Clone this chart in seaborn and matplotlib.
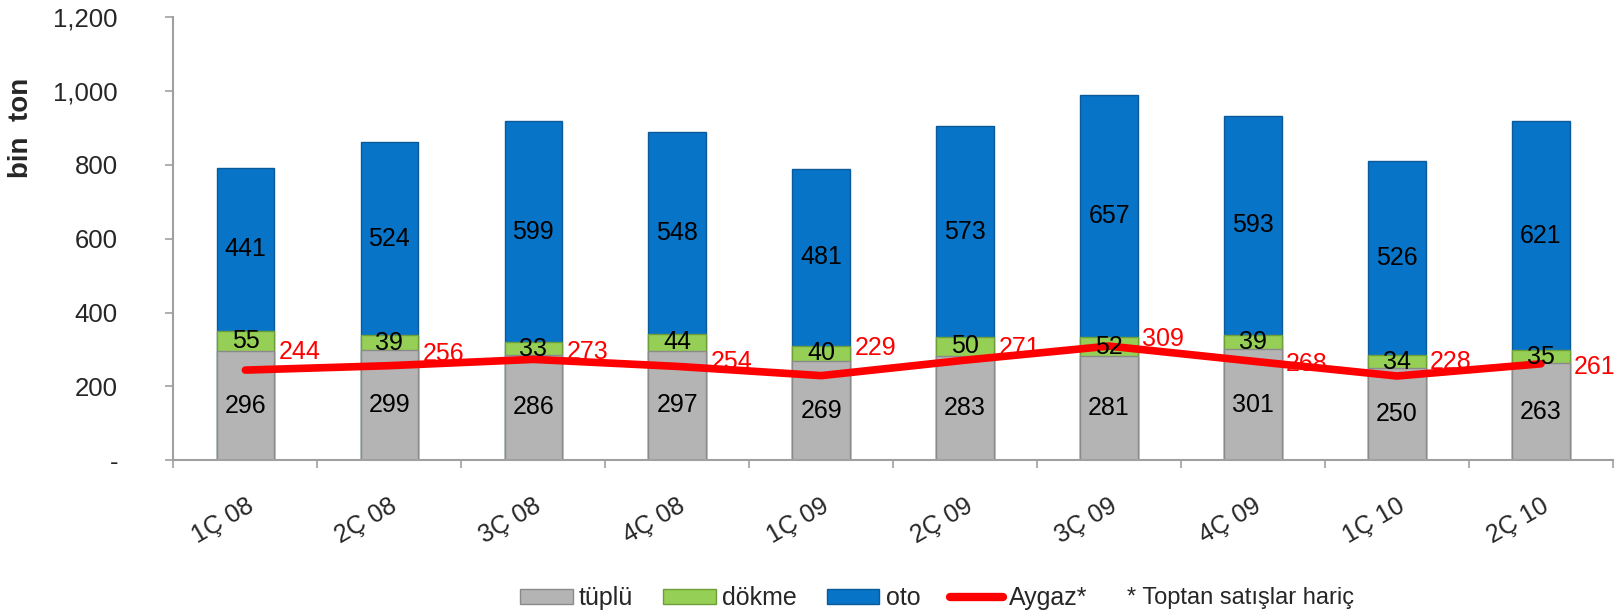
import numpy as np
import pandas as pd
import matplotlib
matplotlib.use("Agg")
import matplotlib.pyplot as plt
from matplotlib.patches import Patch
from matplotlib.lines import Line2D
from matplotlib.ticker import FixedLocator, FuncFormatter
import seaborn as sns

# ---- data ----
quarters = ["1Ç 08", "2Ç 08", "3Ç 08", "4Ç 08", "1Ç 09", "2Ç 09", "3Ç 09", "4Ç 09", "1Ç 10", "2Ç 10"]
tuplu = [296, 299, 286, 297, 269, 283, 281, 301, 250, 263]
dokme = [55, 39, 33, 44, 40, 50, 52, 39, 34, 35]
oto = [441, 524, 599, 548, 481, 573, 657, 593, 526, 621]
aygaz = [244, 256, 273, 254, 229, 271, 309, 268, 228, 261]
y_ticks = [0, 200, 400, 600, 800, 1000, 1200]

# ---- style ----
sns.set_theme(style="white")
plt.rcParams["font.family"] = ["Liberation Sans", "DejaVu Sans"]

c_grey = "#B4B4B4"
c_green = "#96CF55"
c_blue = "#0874C8"
c_red = "#FF0000"
axis_grey = "#A0A0A0"

df = pd.DataFrame({"q": quarters, "tuplu": tuplu, "dokme": dokme, "oto": oto, "aygaz": aygaz})
df["s1"] = df["tuplu"]
df["s2"] = df["tuplu"] + df["dokme"]
df["s3"] = df["s2"] + df["oto"]

fig = plt.figure(figsize=(16.21, 6.16), dpi=100)
ax = fig.add_axes([0.107, 0.253, 0.888, 0.719])

bw = 0.4
sns.barplot(data=df, x="q", y="s3", color=c_blue, width=bw, ax=ax,
            edgecolor="#0A5A9A", linewidth=1.0, saturation=1)
sns.barplot(data=df, x="q", y="s2", color=c_green, width=bw, ax=ax,
            edgecolor="#6E9E3A", linewidth=1.0, saturation=1)
sns.barplot(data=df, x="q", y="s1", color=c_grey, width=bw, ax=ax,
            edgecolor="#8A8A8A", linewidth=1.0, saturation=1)

xpos = np.arange(len(quarters))
sns.lineplot(x=xpos, y=df["aygaz"].to_numpy(), color=c_red, linewidth=5.5,
             ax=ax, sort=False, solid_capstyle="round", zorder=5)

lab_fs = 18
for i in range(len(quarters)):
    ax.text(i, tuplu[i] / 2, f"{tuplu[i]}", ha="center", va="center", fontsize=lab_fs, color="black", zorder=6)
    ax.text(i, tuplu[i] + dokme[i] / 2, f"{dokme[i]}", ha="center", va="center", fontsize=lab_fs, color="black", zorder=6)
    ax.text(i, tuplu[i] + dokme[i] + oto[i] / 2, f"{oto[i]}", ha="center", va="center", fontsize=lab_fs, color="black", zorder=6)

red_dy = [50, 32, 21, 12, 76, 34, 18, -8, 38, -9]
for i in range(len(quarters)):
    ax.text(i + 0.23, aygaz[i] + red_dy[i], f"{aygaz[i]}", ha="left", va="center",
            fontsize=lab_fs, color=c_red, zorder=7)

ax.set_xlim(-0.5, len(quarters) - 0.5)
ax.set_ylim(0, 1200)
ax.yaxis.set_major_locator(FixedLocator(y_ticks))
ax.yaxis.set_major_formatter(FuncFormatter(lambda v, p: "-" if v == 0 else f"{int(v):,}"))
ax.tick_params(axis="y", which="major", length=6, width=1.2, color=axis_grey, labelsize=18.5,
               pad=34, direction="out", left=True)
ax.set_ylabel("bin  ton", fontsize=20, fontweight="bold")
ax.yaxis.set_label_coords(-0.097, 0.75)

ax.set_xlabel("")
ax.set_xticks(xpos)
ax.set_xticklabels(quarters, rotation=30, ha="right", rotation_mode="anchor", fontsize=18)
ax.tick_params(axis="x", which="major", length=0, pad=24)
ax.set_xticks(np.arange(-0.5, len(quarters), 1.0), minor=True)
ax.tick_params(axis="x", which="minor", length=6, width=1.2, color=axis_grey, bottom=True, direction="out")

for s in ["top", "right"]:
    ax.spines[s].set_visible(False)
for s in ["left", "bottom"]:
    ax.spines[s].set_color(axis_grey)
    ax.spines[s].set_linewidth(1.5)
ax.grid(False)

handles = [
    Patch(facecolor=c_grey, edgecolor="#8A8A8A", label="tüplü"),
    Patch(facecolor=c_green, edgecolor="#6E9E3A", label="dökme"),
    Patch(facecolor=c_blue, edgecolor="#0A5A9A", label="oto"),
    Line2D([0], [0], color=c_red, linewidth=6, solid_capstyle="round", label="Aygaz*"),
]
fig.legend(handles=handles, loc="center left", bbox_to_anchor=(0.321, 0.029), ncol=4,
           frameon=False, fontsize=18, handlelength=2.1, handleheight=0.55,
           handletextpad=0.25, columnspacing=1.2, borderpad=0, borderaxespad=0)
fig.text(1127 / 1621, 0.029, "* Toptan satışlar hariç", fontsize=17, ha="left", va="center")

fig.savefig("out.png", dpi=100)
